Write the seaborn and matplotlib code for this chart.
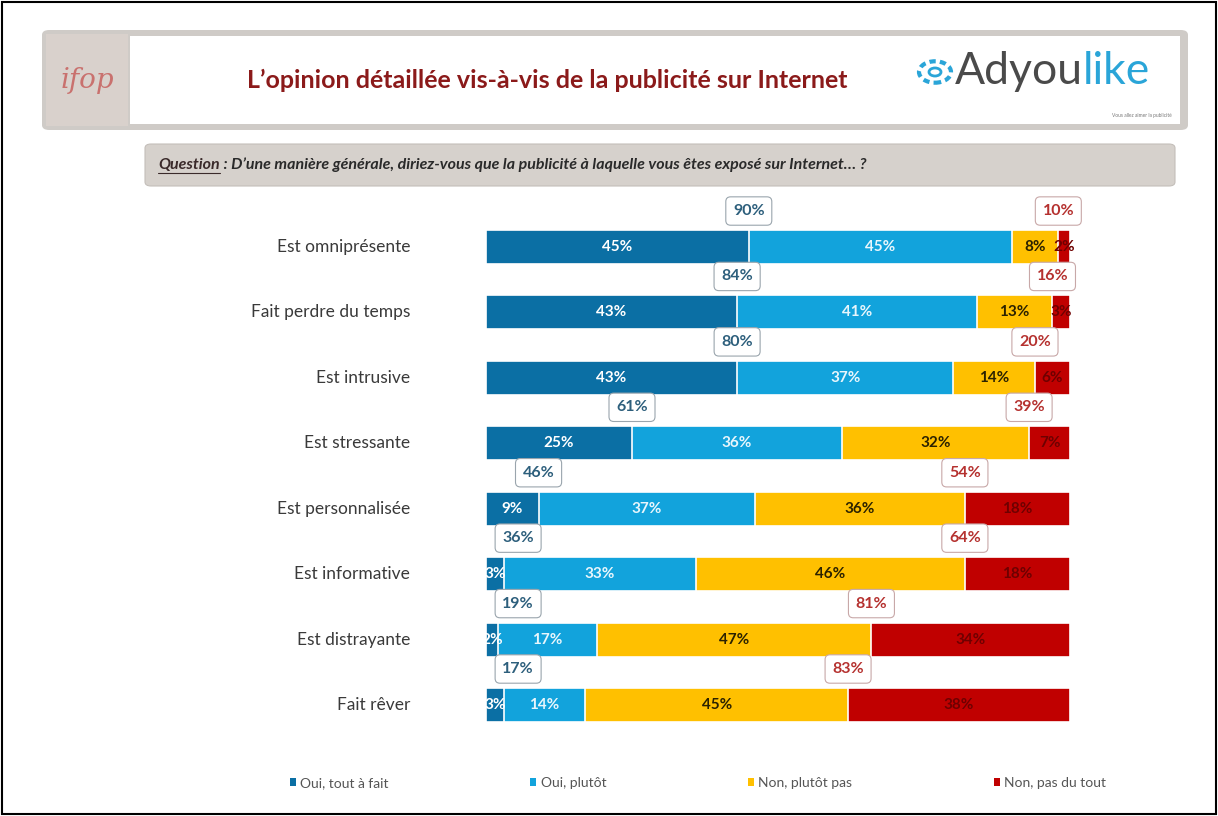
import numpy as np
import pandas as pd
import matplotlib
matplotlib.use("Agg")
import matplotlib.pyplot as plt
import seaborn as sns
from matplotlib.patches import FancyBboxPatch, Rectangle, Patch, Circle
from matplotlib.lines import Line2D

# ---- data ----
items = ["Est omniprésente", "Fait perdre du temps", "Est intrusive", "Est stressante",
         "Est personnalisée", "Est informative", "Est distrayante", "Fait rêver"]
oui_tout = [45, 43, 43, 25, 9, 3, 2, 3]
oui_plutot = [45, 41, 37, 36, 37, 33, 17, 14]
non_plutot = [8, 13, 14, 32, 36, 46, 47, 45]
non_pas = [2, 3, 6, 7, 18, 18, 34, 38]
total_oui = [90, 84, 80, 61, 46, 36, 19, 17]
total_non = [10, 16, 20, 39, 54, 64, 81, 83]
series_names = ["Oui, tout à fait", "Oui, plutôt", "Non, plutôt pas", "Non, pas du tout"]

colors = ["#0B6FA4", "#12A3DC", "#FFC000", "#C00000"]
text_colors = ["white", "#E8F6FC", "#2B2200", "#6E0000"]

df = pd.DataFrame({"item": items, "v1": oui_tout, "v2": oui_plutot,
                   "v3": non_plutot, "v4": non_pas})
df["c1"] = df["v1"]
df["c2"] = df["c1"] + df["v2"]
df["c3"] = df["c2"] + df["v3"]
df["c4"] = df["c3"] + df["v4"]

sns.set_style("white")
plt.rcParams["font.family"] = ["Lato", "DejaVu Sans"]

fig = plt.figure(figsize=(12.18, 8.16), dpi=100)
W, H = 1218, 816

def fx(px):
    return px / W

def fy(py):
    return 1 - py / H

# outer frame
fig.patches.append(Rectangle((0.002, 0.002), 0.996, 0.996, transform=fig.transFigure,
                             fill=False, edgecolor="black", linewidth=1.5))

# ---- header ----
fig.patches.append(FancyBboxPatch((fx(42), fy(130)), fx(1146), 100 / H,
                                  boxstyle="round,pad=0,rounding_size=0.006",
                                  transform=fig.transFigure, facecolor="#CFCBC7",
                                  edgecolor="none"))
fig.patches.append(Rectangle((fx(130), fy(124)), fx(1050), 88 / H, transform=fig.transFigure,
                             facecolor="white", edgecolor="none"))
fig.patches.append(Rectangle((fx(46), fy(126)), fx(82), 92 / H, transform=fig.transFigure,
                             facecolor="#D9D1CC", edgecolor="none"))
fig.text(fx(87), fy(80), "ifop", fontsize=20, color="#C9716E", ha="center", va="center",
         family="DejaVu Serif", style="italic")
fig.text(fx(547), fy(80), "L’opinion détaillée vis-à-vis de la publicité sur Internet",
         fontsize=18, fontweight="bold", color="#8B1A1A", ha="center", va="center")

# Adyoulike logo
fig.patches.append(Circle((fx(935), fy(72)), 16 / W, transform=fig.transFigure,
                          fill=False, edgecolor="#2AA5D8", linewidth=3, linestyle=(0, (1.5, 1))))
fig.patches.append(Circle((fx(935), fy(72)), 6 / W, transform=fig.transFigure,
                          fill=False, edgecolor="#2AA5D8", linewidth=2))
t1 = fig.text(fx(955), fy(72), "Adyou", fontsize=32, color="#4A4A4A", ha="left", va="center")
fig.canvas.draw()
r = fig.canvas.get_renderer()
bb = t1.get_window_extent(r)
fig.text(bb.x1 / W, fy(72), "like", fontsize=32, color="#2AA5D8", ha="left", va="center")
fig.text(fx(1172), fy(116), "Vous allez aimer la publicité", fontsize=3.5, color="#777777",
         ha="right", va="center")

# ---- question bar ----
fig.patches.append(FancyBboxPatch((fx(145), fy(186)), fx(1030), 42 / H,
                                  boxstyle="round,pad=0,rounding_size=0.005",
                                  transform=fig.transFigure, facecolor="#D6D1CC",
                                  edgecolor="#C4BFBA", linewidth=0.8))
q1 = fig.text(fx(158), fy(165), "Question", fontsize=11.5, fontweight="bold", style="italic",
              color="#3A2A2A", ha="left", va="center")
bq = q1.get_window_extent(r)
fig.lines.append(Line2D([bq.x0 / W, bq.x1 / W], [fy(173), fy(173)], transform=fig.transFigure,
                        color="#3A2A2A", linewidth=0.8))
fig.text(bq.x1 / W, fy(165),
         " : D’une manière générale, diriez-vous que la publicité à laquelle vous êtes exposé sur Internet… ?",
         fontsize=11.5, fontweight="bold", style="italic", color="#2A2A2A", ha="left", va="center")

# ---- main bars ----
ax = fig.add_axes([fx(486), 1 - 737.7 / H, fx(584), 523.4 / H])
for col, c in zip(["c4", "c3", "c2", "c1"], colors[::-1]):
    sns.barplot(data=df, x=col, y="item", orient="h", color=c, saturation=1,
                width=0.52, edgecolor="white", linewidth=1.2, ax=ax)
ax.set_xlim(0, 100)
ax.set_ylim(7.5, -0.5)
ax.axis("off")

for i, row in df.iterrows():
    ax.text(-13, i, row["item"], ha="right", va="center", fontsize=12.5, color="#3A3A3A")
    starts = [0, row["c1"], row["c2"], row["c3"]]
    vals = [row["v1"], row["v2"], row["v3"], row["v4"]]
    for s, v, tc in zip(starts, vals, text_colors):
        ax.text(s + v / 2, i, f"{v}%", ha="center", va="center", fontsize=11,
                fontweight="bold", color=tc)
    # total boxes
    xo = max(row["v1"], 5.5)
    ax.text(xo, i - 0.55, f"{total_oui[i]}%", ha="center", va="center", fontsize=11.5,
            fontweight="bold", color="#2D5F7C", clip_on=False,
            bbox=dict(boxstyle="round,pad=0.45,rounding_size=0.3", facecolor="white",
                      edgecolor="#9AA5AD", linewidth=0.8))
    xn = 100 - row["v4"]
    ax.text(xn, i - 0.55, f"{total_non[i]}%", ha="center", va="center", fontsize=11.5,
            fontweight="bold", color="#B5312F", clip_on=False,
            bbox=dict(boxstyle="round,pad=0.45,rounding_size=0.3", facecolor="white",
                      edgecolor="#C8A8A8", linewidth=0.8))

# ---- legend ----
handles = [Patch(facecolor=c, edgecolor="none") for c in colors]
fig.legend(handles, series_names, loc="center", bbox_to_anchor=(fx(698), fy(783)), ncol=4,
           frameon=False, handlelength=0.45, handleheight=0.45, handletextpad=0.3,
           columnspacing=10.2, fontsize=10, labelcolor="#555555")

fig.savefig("out.png", dpi=100)
